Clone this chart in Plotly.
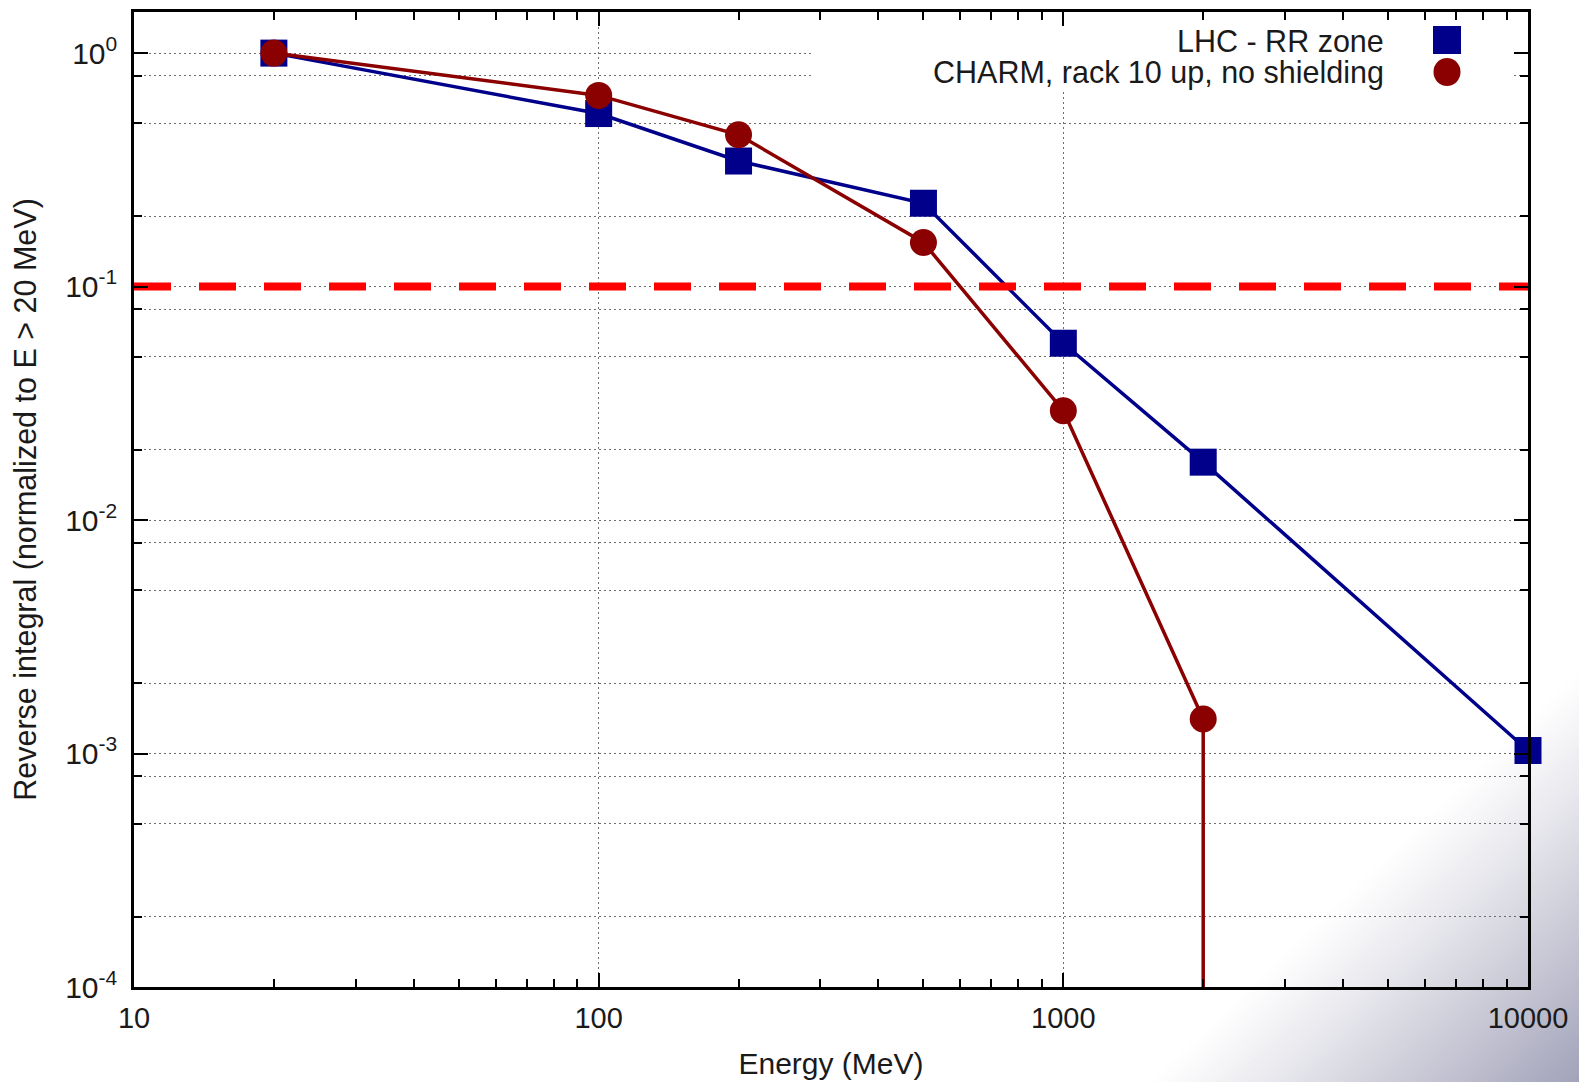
import math
import plotly.graph_objects as go

# ---------------- data ----------------
energy_mev = [20, 100, 200, 500, 1000, 2000, 10000]
lhc_rr = [1.0, 0.551, 0.345, 0.2275, 0.0572, 0.0177, 0.00103]

charm_energy_mev = [20, 100, 200, 500, 1000, 2000]
charm_rack10 = [1.0, 0.659, 0.447, 0.1545, 0.0294, 0.001406]
charm_tail_energy = 2000      # CHARM spectrum ends here: drops to ~0
charm_tail_value = 1e-7

threshold = 0.1

x_tick_vals = [10, 100, 1000, 10000]
x_tick_text = ["10", "100", "1000", "10000"]
y_tick_vals = [1e-4, 1e-3, 1e-2, 1e-1, 1]
y_tick_text = ["10<sup>-4</sup>", "10<sup>-3</sup>", "10<sup>-2</sup>",
               "10<sup>-1</sup>", "10<sup>0</sup>"]
y_minor_mult = [0.2, 0.5, 0.8]
x_minor_mult = [2, 3, 4, 5, 6, 7, 8, 9]

legend_labels = ["LHC - RR zone", "CHARM, rack 10 up, no shielding"]

# ---------------- style / geometry ----------------
W, H = 1579, 1082
L, R, T, B = 134, 1528, 12, 987
BLUE = "#00008b"
DRED = "#8b0000"
FONT = "Liberation Sans, Arial, sans-serif"
TXT = "#1a1a1a"


def px(x, y):
    return (x - L) / (R - L), (B - y) / (B - T)


fig = go.Figure()

fig.add_trace(go.Scatter(
    x=energy_mev, y=lhc_rr, mode="lines+markers", name=legend_labels[0],
    line=dict(color=BLUE, width=3.5),
    marker=dict(symbol="square", size=27, color=BLUE),
    cliponaxis=False, showlegend=False))

fig.add_trace(go.Scatter(
    x=[charm_energy_mev[-1], charm_tail_energy],
    y=[charm_rack10[-1], charm_tail_value], mode="lines",
    line=dict(color=DRED, width=3.5), showlegend=False, hoverinfo="skip"))

fig.add_trace(go.Scatter(
    x=charm_energy_mev, y=charm_rack10, mode="lines+markers",
    name=legend_labels[1],
    line=dict(color=DRED, width=3.5),
    marker=dict(symbol="circle", size=27, color=DRED),
    cliponaxis=False, showlegend=False))

fig.add_trace(go.Scatter(
    x=[x_tick_vals[0], x_tick_vals[-1]], y=[threshold, threshold],
    mode="lines", line=dict(color="#ff0000", width=8, dash="37px,28px"),
    showlegend=False, hoverinfo="skip"))

shapes = []
# background gradient in bottom-right corner
nx, ny = 0.692, 0.723
x_start = 1150.0
c0 = nx * x_start + ny * H
dist = nx * (W - x_start)
N = 60
c_end = (163, 163, 186)
for i in range(N):
    d = dist * i / N
    c = c0 + d
    xb = (c - ny * H) / nx
    yr = (c - nx * W) / ny
    t = ((i + 1) / N) ** 1.1
    col = tuple(round(255 + (ce - 255) * t) for ce in c_end)
    p1 = px(xb - 20 * ny / nx, H + 20)
    p2 = px(W + 20, H + 20)
    p3 = px(W + 20, yr - 20 * nx / ny)
    path = "M {:.5f},{:.5f} L {:.5f},{:.5f} L {:.5f},{:.5f} Z".format(
        p1[0], p1[1], p2[0], p2[1], p3[0], p3[1])
    shapes.append(dict(type="path", path=path, xref="paper", yref="paper",
                       fillcolor="rgb({},{},{})".format(*col),
                       line=dict(width=0), layer="below"))

# legend box (opaque)
lx0, ly0 = px(813, 92)
lx1, ly1 = px(R - 14, T + 15)
shapes.append(dict(type="rect", xref="paper", yref="paper",
                   x0=lx0, y0=ly0, x1=lx1, y1=ly1,
                   fillcolor="white", line=dict(width=0), layer="above"))

# legend symbols
sx0, sy0 = px(1433, 54)
sx1, sy1 = px(1461, 26)
shapes.append(dict(type="rect", xref="paper", yref="paper",
                   x0=sx0, y0=sy0, x1=sx1, y1=sy1,
                   fillcolor=BLUE, line=dict(width=0), layer="above"))
cx0, cy0 = px(1433.5, 86)
cx1, cy1 = px(1460.5, 58)
shapes.append(dict(type="circle", xref="paper", yref="paper",
                   x0=cx0, y0=cy0, x1=cx1, y1=cy1,
                   fillcolor=DRED, line=dict(width=0), layer="above"))

annotations = []
for lab, yy in zip(legend_labels, [41, 72.5]):
    ax, ay = px(1386, yy)
    annotations.append(dict(text=lab, xref="paper", yref="paper", x=ax, y=ay,
                            xanchor="right", yanchor="middle", showarrow=False,
                            font=dict(family=FONT, size=30.5, color=TXT)))

y_minor_vals = [m * 10 ** k for k in range(-4, 1) for m in y_minor_mult]
x_minor_vals = [m * 10 ** k for k in range(1, 4) for m in x_minor_mult]

grid_style = dict(gridcolor="#6e6e6e", griddash="2px,3px", gridwidth=1)

fig.update_layout(
    width=W, height=H, autosize=False,
    margin=dict(l=L, r=W - R, t=T, b=H - B),
    paper_bgcolor="white", plot_bgcolor="rgba(0,0,0,0)",
    font=dict(family=FONT, size=29, color=TXT),
    shapes=shapes, annotations=annotations,
    xaxis=dict(
        type="log", range=[1, 4], showline=True, linecolor="black",
        linewidth=2.5, mirror="allticks", ticks="inside", ticklen=14,
        tickwidth=2, tickcolor="black", automargin=False,
        tickvals=x_tick_vals, ticktext=x_tick_text,
        tickfont=dict(family=FONT, size=29, color=TXT),
        ticklabelstandoff=3,
        showgrid=True, zeroline=False, **grid_style,
        minor=dict(ticks="inside", ticklen=8, tickwidth=2, tickcolor="black",
                   tickvals=x_minor_vals, showgrid=False),
        title=dict(text="Energy (MeV)", standoff=21,
                   font=dict(family=FONT, size=30, color=TXT)),
    ),
    yaxis=dict(
        type="log", range=[-4, math.log10(1.5)], showline=True,
        linecolor="black", linewidth=2.5, mirror="allticks", ticks="inside",
        ticklen=14, tickwidth=2, tickcolor="black", automargin=False,
        tickvals=y_tick_vals, ticktext=y_tick_text,
        tickfont=dict(family=FONT, size=30, color=TXT),
        ticklabelstandoff=8,
        showgrid=True, zeroline=False, **grid_style,
        minor=dict(ticks="inside", ticklen=8, tickwidth=2, tickcolor="black",
                   tickvals=y_minor_vals, showgrid=True, **grid_style),
        title=dict(text="Reverse integral (normalized to E > 20 MeV)",
                   standoff=20, font=dict(family=FONT, size=30.5, color=TXT)),
    ),
)

fig.write_html(
    "out.html",
    config={"displayModeBar": False},
    post_script="document.body.style.margin='0';"
                "document.body.style.overflow='hidden';")
